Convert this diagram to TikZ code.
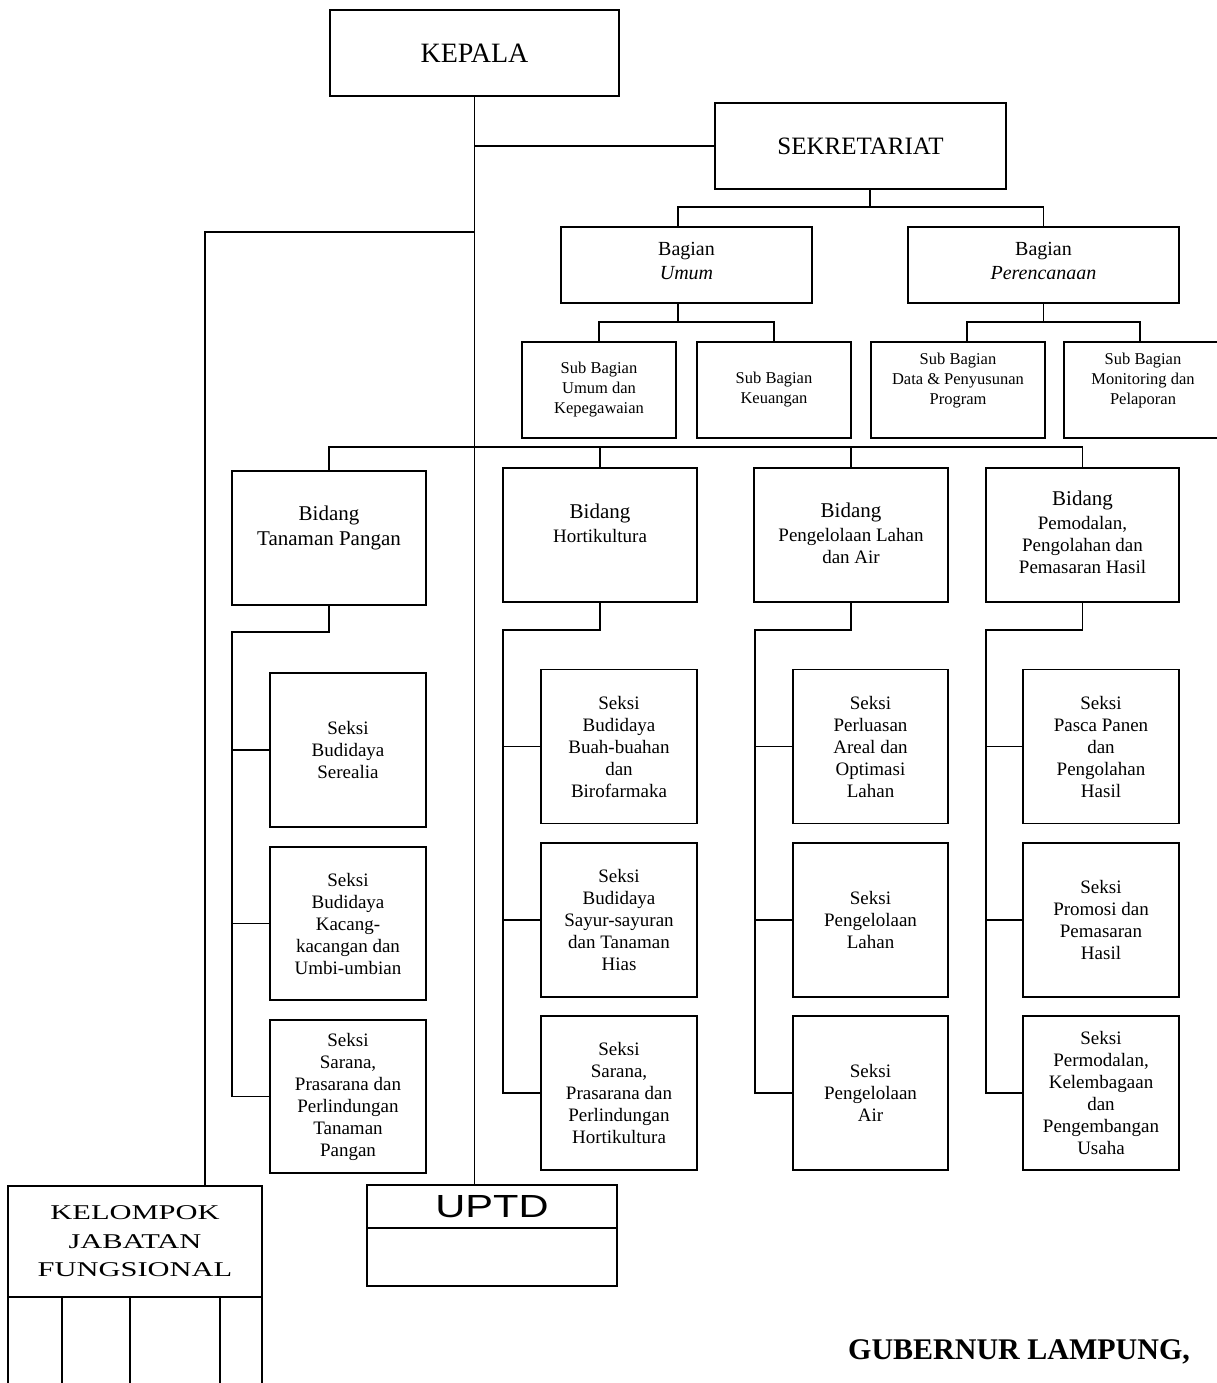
\documentclass[tikz,border=0pt]{standalone}
\usepackage{fontspec}
\usepackage{graphicx}
\setmainfont{Liberation Serif}
\newfontfamily\arialfont{Liberation Sans}
\begin{document}
\begin{tikzpicture}[x=1pt,y=-1pt,
 box/.style={draw, line width=1.3pt, inner sep=0pt, outer sep=0pt, align=center},
 conn/.style={line width=1.1pt},
 txt/.style={inner sep=0pt, align=center},
 subf/.style={font=\fontsize{16.5}{20}\selectfont},
 bagf/.style={font=\fontsize{20}{24}\selectfont},
 seksi/.style={box, minimum width=156pt, minimum height=154pt, font=\fontsize{19}{22}\selectfont},
 bid/.style={box, minimum width=194pt, minimum height=134pt}]
\useasboundingbox (0,0) rectangle (1217,1383);

% top
\node[box, minimum width=289pt, minimum height=86pt, font=\fontsize{28}{32}\selectfont] (kep) at (474.5,53) {KEPALA};
\node[box, minimum width=291pt, minimum height=86pt, font=\fontsize{25}{30}\selectfont] (sek) at (860.5,146) {SEKRETARIAT};

% bagian
\node[box, minimum width=251pt, minimum height=76pt] (bu) at (686.5,265) {};
\node[txt, bagf] (but) at (686.5,261) {Bagian\\\textit{Umum}};
\node[box, minimum width=271pt, minimum height=76pt] (bp) at (1043.5,265) {};
\node[txt, bagf] (bpt) at (1043.5,261) {Bagian\\\textit{Perencanaan}};

% sub bagian
\node[box, subf, minimum width=154pt, minimum height=96pt] (s1) at (599,390) {Sub Bagian\\Umum dan\\Kepegawaian};
\node[box, subf, minimum width=154pt, minimum height=96pt] (s2) at (774,390) {Sub Bagian\\Keuangan};
\node[box, minimum width=174pt, minimum height=96pt] (s3) at (958,390) {};
\node[txt, subf] (s3t) at (958,381) {Sub Bagian\\Data \& Penyusunan\\Program};
\node[box, minimum width=158pt, minimum height=96pt] (s4) at (1143,390) {};
\node[txt, subf] (s4t) at (1143,381) {Sub Bagian\\Monitoring dan\\Pelaporan};

% bidang
\node[bid] (b1) at (329,538) {};
\node[txt, font=\fontsize{21}{25}\selectfont] (b1t) at (329,528) {Bidang\\Tanaman Pangan};
\node[bid] (b2) at (600,535) {};
\node[txt, font=\fontsize{19}{22}\selectfont] (b2t) at (600,523) {{\fontsize{21}{24}\selectfont Bidang}\\[2pt]Hortikultura};
\node[bid] (b3) at (851,535) {};
\node[txt, font=\fontsize{19}{22}\selectfont] (b3t) at (851,533) {{\fontsize{21}{24}\selectfont Bidang}\\[2pt]Pengelolaan Lahan\\dan Air};
\node[bid, minimum width=193pt] (b4) at (1082.5,535) {};
\node[txt, font=\fontsize{19}{22}\selectfont] (b4t) at (1082.5,532) {{\fontsize{21}{24}\selectfont Bidang}\\[2pt]Pemodalan,\\Pengolahan dan\\Pemasaran Hasil};

% seksi column 1
\node[seksi] (k11) at (348,750) {Seksi\\Budidaya\\Serealia};
\node[seksi, minimum height=153pt] (k12) at (348,923.5) {Seksi\\Budidaya\\Kacang-\\kacangan dan\\Umbi-umbian};
\node[seksi, minimum height=153pt] (k13) at (348,1096.5) {Seksi\\Sarana,\\Prasarana dan\\Perlindungan\\Tanaman\\Pangan};
% column 2
\node[seksi] (k21) at (619,746.5) {Seksi\\Budidaya\\Buah-buahan\\dan\\Birofarmaka};
\node[seksi] (k22) at (619,920) {Seksi\\Budidaya\\Sayur-sayuran\\dan Tanaman\\Hias};
\node[seksi] (k23) at (619,1093) {Seksi\\Sarana,\\Prasarana dan\\Perlindungan\\Hortikultura};
% column 3
\node[seksi, minimum width=155pt] (k31) at (870.5,746.5) {Seksi\\Perluasan\\Areal dan\\Optimasi\\Lahan};
\node[seksi, minimum width=155pt] (k32) at (870.5,920) {Seksi\\Pengelolaan\\Lahan};
\node[seksi, minimum width=155pt] (k33) at (870.5,1093) {Seksi\\Pengelolaan\\Air};
% column 4
\node[seksi] (k41) at (1101,746.5) {Seksi\\Pasca Panen\\dan\\Pengolahan\\Hasil};
\node[seksi] (k42) at (1101,920) {Seksi\\Promosi dan\\Pemasaran\\Hasil};
\node[seksi] (k43) at (1101,1093) {Seksi\\Permodalan,\\Kelembagaan\\dan\\Pengembangan\\Usaha};

% bottom boxes
\node[box, minimum width=254pt, minimum height=111pt, font=\fontsize{21}{28.5}\selectfont] (kel) at (135,1241.5) {\scalebox{1.45}[1]{KELOMPOK}\\\scalebox{1.45}[1]{JABATAN}\\\scalebox{1.45}[1]{FUNGSIONAL}};
\draw[line width=1.3pt] (kel.south west) -- ++(0,110);
\draw[line width=1.3pt] (kel.south east) -- ++(0,110);
\draw[conn] ([xshift=54pt]kel.south west) -- ++(0,110);
\draw[conn] ([xshift=122pt]kel.south west) -- ++(0,110);
\draw[conn] ([xshift=212pt]kel.south west) -- ++(0,110);

\node[box, minimum width=250pt, minimum height=43pt, font=\arialfont\fontsize{32}{36}\selectfont] (up) at (492,1206.5) {\scalebox{1.3}[1]{UPTD}};
\node[box, minimum width=250pt, minimum height=58pt, anchor=north] (up2) at (up.south) {};

\node[anchor=base west, inner sep=0pt, font=\bfseries\fontsize{30}{34}\selectfont] (gub) at (848,1359) {GUBERNUR LAMPUNG,};

% connectors
\draw[conn] (kep.south) -- (kep.south |- up.north);
\draw[conn] (kep.south |- sek.west) -- (sek.west);
\coordinate (kj) at (205,232);
\draw[conn] (kep.south |- kj) -- (kj) -- (kj |- kel.north);

\draw[conn] ([xshift=9.5pt]sek.south) -- ++(0,18);
\draw[conn] ([xshift=-8.5pt]bu.north) -- ++(0,-20) -| (bp.north);

\draw[conn] ([xshift=-8.5pt]bu.south) -- ++(0,19);
\draw[conn] (s1.north) -- ++(0,-20) -| (s2.north);
\draw[conn] (bp.south) -- ++(0,19);
\draw[conn] ([xshift=9pt]s3.north) -- ++(0,-20) -| ([xshift=-3pt]s4.north);

\draw[conn] (b1.north) -- ++(0,-24) -| (b4.north);
\draw[conn] (b2.north) -- ++(0,-21);
\draw[conn] (b3.north) -- ++(0,-21);

% bidang to seksi
\coordinate (r1) at (232,632);
\draw[conn] (b1.south) |- (r1) |- (k13.west);
\draw[conn] (r1 |- k11.west) -- (k11.west);
\draw[conn] (r1 |- k12.west) -- (k12.west);
\coordinate (r2) at (503,630);
\draw[conn] (b2.south) |- (r2) |- (k23.west);
\draw[conn] (r2 |- k21.west) -- (k21.west);
\draw[conn] (r2 |- k22.west) -- (k22.west);
\coordinate (r3) at (755,630);
\draw[conn] (b3.south) |- (r3) |- (k33.west);
\draw[conn] (r3 |- k31.west) -- (k31.west);
\draw[conn] (r3 |- k32.west) -- (k32.west);
\coordinate (r4) at (986,630);
\draw[conn] (b4.south) |- (r4) |- (k43.west);
\draw[conn] (r4 |- k41.west) -- (k41.west);
\draw[conn] (r4 |- k42.west) -- (k42.west);
\end{tikzpicture}
\end{document}
